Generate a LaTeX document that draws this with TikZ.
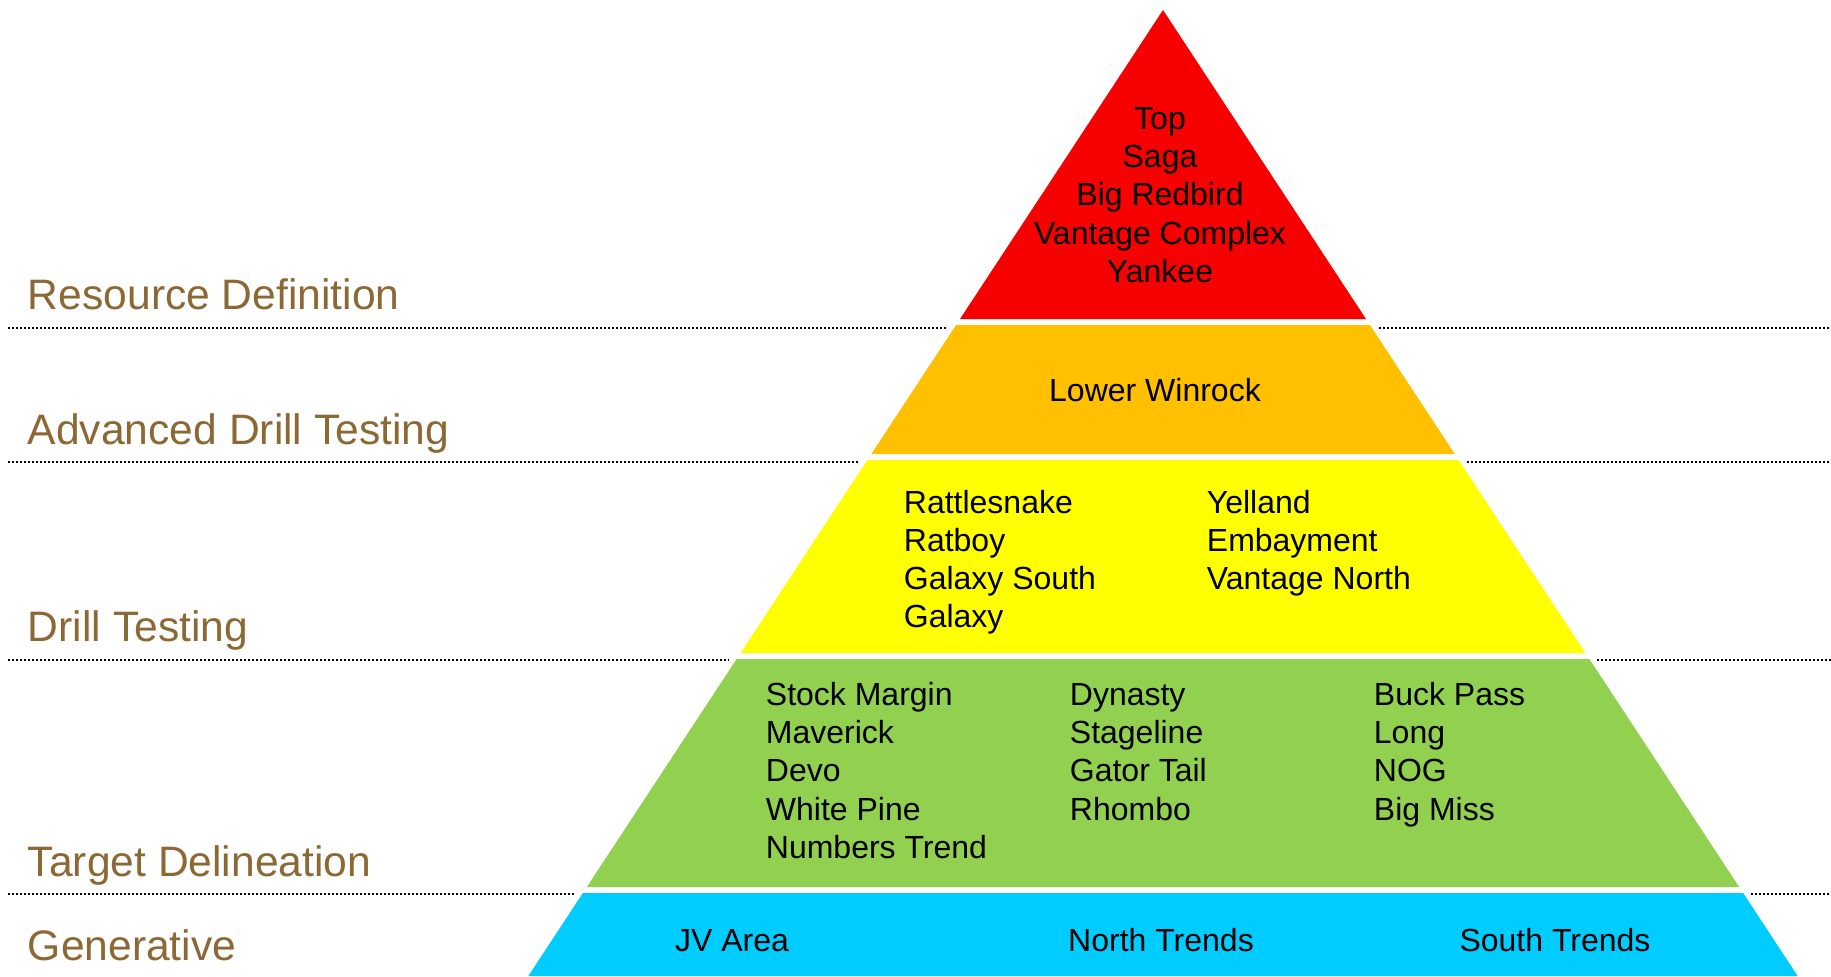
\documentclass[tikz,border=0pt]{standalone}
\usepackage{fontspec}
\setmainfont{Liberation Sans}
\definecolor{cred}{RGB}{248,0,0}
\definecolor{corange}{RGB}{255,192,0}
\definecolor{cyellow}{RGB}{255,255,0}
\definecolor{cgreen}{RGB}{146,208,80}
\definecolor{cblue}{RGB}{0,204,255}
\definecolor{cbrown}{RGB}{140,104,52}
\tikzset{
  pt/.style={inner sep=0pt, font=\fontsize{16pt}{19pt}\selectfont, text=black},
  lab/.style={inner sep=0pt, anchor=base west, font=\fontsize{21.3pt}{25pt}\selectfont, text=cbrown},
  dotline/.style={line width=1.2pt, black, dash pattern=on 1.1pt off 0.9pt},
}
\newcommand\pyrband[3]{%
  \pgfmathsetmacro\tl{1163-0.657*(#1-10)}%
  \pgfmathsetmacro\tr{1163+0.657*(#1-10)}%
  \pgfmathsetmacro\bl{1163-0.657*(#2-10)}%
  \pgfmathsetmacro\br{1163+0.657*(#2-10)}%
  \fill[#3] (\tl,#1) -- (\tr,#1) -- (\br,#2) -- (\bl,#2) -- cycle;}
\newcommand\levelline[1]{%
  \pgfmathsetmacro\dl{1163-0.657*(#1-10)-7}%
  \pgfmathsetmacro\dr{1163+0.657*(#1-10)+7}%
  \draw[dotline] (8,#1) -- (\dl,#1);
  \draw[dotline] (\dr,#1) -- (1831,#1);}
\begin{document}
\begin{tikzpicture}[x=0.5pt,y=-0.5pt]
\useasboundingbox (0,0) rectangle (1831,976);
\fill[white] (0,0) rectangle (1831,976);
% dotted level lines
\levelline{328}
\levelline{462}
\levelline{660}
\levelline{894}
% pyramid bands
\pyrband{10}{319}{cred}
\pyrband{325}{454}{corange}
\pyrband{460}{653}{cyellow}
\pyrband{659}{887}{cgreen}
\pyrband{893}{976}{cblue}
% level labels
\node[lab] (l1) at (27.5,309) {Resource Definition};
\node[lab] (l2) at (27.5,444) {Advanced Drill Testing};
\node[lab] (l3) at (27.5,641) {Drill Testing};
\node[lab] (l4) at (27.5,876) {Target Delineation};
\node[lab] (l5) at (27.5,960) {Generative};
% red band
\foreach \t [count=\i from 0] in {Top, Saga, Big Redbird, Vantage Complex, Yankee}
  \node[pt, anchor=base] (r\i) at (1160,129.5+38.2*\i) {\t};
% orange band
\node[pt, anchor=base] (o0) at (1155,401) {Lower Winrock};
% yellow band
\foreach \t [count=\i from 0] in {Rattlesnake, Ratboy, Galaxy South, Galaxy}
  \node[pt, anchor=base west] (ya\i) at (903.5,513.5+38.1*\i) {\t};
\foreach \t [count=\i from 0] in {Yelland, Embayment, Vantage North}
  \node[pt, anchor=base west] (yb\i) at (1206.5,513.5+38.1*\i) {\t};
% green band
\foreach \t [count=\i from 0] in {Stock Margin, Maverick, Devo, White Pine, Numbers Trend}
  \node[pt, anchor=base west] (ga\i) at (765.5,705.5+38.2*\i) {\t};
\foreach \t [count=\i from 0] in {Dynasty, Stageline, Gator Tail, Rhombo}
  \node[pt, anchor=base west] (gb\i) at (1069.5,705.5+38.2*\i) {\t};
\foreach \t [count=\i from 0] in {Buck Pass, Long, NOG, Big Miss}
  \node[pt, anchor=base west] (gc\i) at (1373.5,705.5+38.2*\i) {\t};
% blue band
\node[pt, anchor=base] (b0) at (732,951) {JV Area};
\node[pt, anchor=base] (b1) at (1161,951) {North Trends};
\node[pt, anchor=base] (b2) at (1555,951) {South Trends};
\end{tikzpicture}
\end{document}
